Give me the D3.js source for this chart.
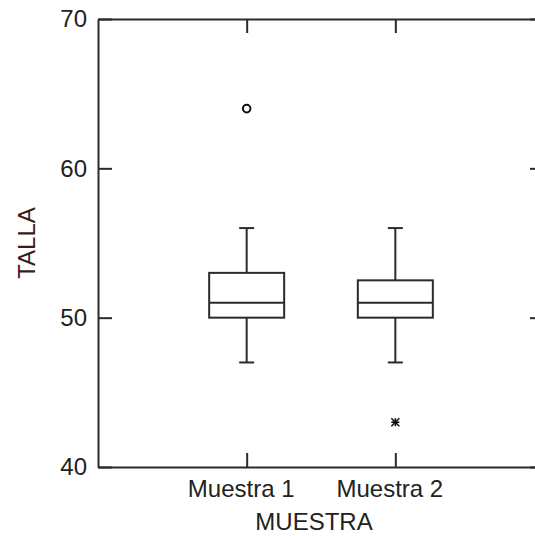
<!DOCTYPE html>
<html>
<head>
<meta charset="utf-8">
<script src="https://cdn.jsdelivr.net/npm/d3@7"></script>
<style>
  html, body { margin: 0; padding: 0; background: #fff; }
  svg { display: block; }
  text { font-family: "Liberation Sans", Arial, sans-serif; }
</style>
</head>
<body>
<svg id="chart" width="535" height="536"></svg>
<script>
// Box plot summaries per sample
const categories = ["Muestra 1", "Muestra 2"];
const whiskerLow = [47, 47];
const q1 = [50, 50];
const median = [51, 51];
const q3 = [53, 52.5];
const whiskerHigh = [56, 56];
// Outliers: far (circle) and extreme (asterisk)
const outlierValues = [64, 43];
const outlierGroup = ["Muestra 1", "Muestra 2"];
const outlierKind = ["circle", "star"];
const yTicks = [40, 50, 60, 70];

const svg = d3.select("#chart");
const plotLeft = 98, plotRight = 544, plotTop = 19, plotBottom = 467;
const ink = "#2b2b2b";
const fontSize = 24;

const x = d3.scalePoint().domain(categories).range([plotLeft, plotRight]).padding(1);
const y = d3.scaleLinear().domain([40, 70]).range([plotBottom, plotTop]);

const boxes = categories.map((c, i) => ({
  c, lo: whiskerLow[i], q1: q1[i], med: median[i], q3: q3[i], hi: whiskerHigh[i]
}));

// Frame and axes
function styleAxis(g) {
  g.selectAll(".domain").attr("stroke", ink).attr("stroke-width", 2);
  g.selectAll(".tick line").attr("stroke", ink).attr("stroke-width", 2);
  g.selectAll("text").attr("fill", "#222").style("font-size", fontSize + "px")
    .style("font-family", '"Liberation Sans", Arial, sans-serif');
}

svg.append("g").attr("transform", `translate(0,${plotBottom})`)
  .call(d3.axisBottom(x).tickSize(-14).tickPadding(13).tickSizeOuter(0))
  .call(styleAxis)
  .call(g => g.selectAll(".tick text").attr("dx", -6));
svg.append("g").attr("transform", `translate(0,${plotTop})`)
  .call(d3.axisTop(x).tickSize(-14).tickFormat("").tickSizeOuter(0))
  .call(styleAxis);
svg.append("g").attr("transform", `translate(${plotLeft},0)`)
  .call(d3.axisLeft(y).tickValues(yTicks).tickFormat(d3.format("d")).tickSize(-14).tickPadding(11).tickSizeOuter(0))
  .call(styleAxis);
svg.append("g").attr("transform", `translate(${plotRight},0)`)
  .call(d3.axisRight(y).tickValues(yTicks).tickFormat("").tickSize(-14).tickSizeOuter(0))
  .call(styleAxis);

// Boxes
const boxW = 75, capW = 15;
const g = svg.append("g").attr("fill", "none").attr("stroke", ink).attr("stroke-width", 2);
boxes.forEach(b => {
  const cx = x(b.c);
  g.append("line").attr("x1", cx).attr("x2", cx).attr("y1", y(b.hi)).attr("y2", y(b.q3));
  g.append("line").attr("x1", cx).attr("x2", cx).attr("y1", y(b.q1)).attr("y2", y(b.lo));
  g.append("line").attr("x1", cx - capW / 2).attr("x2", cx + capW / 2).attr("y1", y(b.hi)).attr("y2", y(b.hi));
  g.append("line").attr("x1", cx - capW / 2).attr("x2", cx + capW / 2).attr("y1", y(b.lo)).attr("y2", y(b.lo));
  g.append("rect").attr("x", cx - boxW / 2).attr("y", y(b.q3))
    .attr("width", boxW).attr("height", y(b.q1) - y(b.q3));
  g.append("line").attr("x1", cx - boxW / 2).attr("x2", cx + boxW / 2).attr("y1", y(b.med)).attr("y2", y(b.med));
});

// Outliers
outlierValues.forEach((v, i) => {
  const cx = x(outlierGroup[i]), cy = y(v);
  if (outlierKind[i] === "circle") {
    svg.append("circle").attr("cx", cx).attr("cy", cy).attr("r", 3.8)
      .attr("fill", "none").attr("stroke", "#111").attr("stroke-width", 2);
  } else {
    const s = 4;
    const star = svg.append("g").attr("stroke", "#111").attr("stroke-width", 1.6);
    star.append("line").attr("x1", cx - s).attr("x2", cx + s).attr("y1", cy - s).attr("y2", cy + s);
    star.append("line").attr("x1", cx - s).attr("x2", cx + s).attr("y1", cy + s).attr("y2", cy - s);
    star.append("line").attr("x1", cx).attr("x2", cx).attr("y1", cy - s).attr("y2", cy + s);
    star.append("line").attr("x1", cx - s).attr("x2", cx + s).attr("y1", cy).attr("y2", cy);
  }
});

// Axis titles
svg.append("text").attr("x", (plotLeft + plotRight) / 2 - 7).attr("y", 530)
  .attr("text-anchor", "middle").attr("fill", "#222").style("font-size", fontSize + "px")
  .text("MUESTRA");
svg.append("text").attr("transform", `translate(35,${(plotTop + plotBottom) / 2}) rotate(-90)`)
  .attr("text-anchor", "middle").attr("fill", "#3a1c1c").style("font-size", fontSize + "px")
  .text("TALLA");
</script>
</body>
</html>
